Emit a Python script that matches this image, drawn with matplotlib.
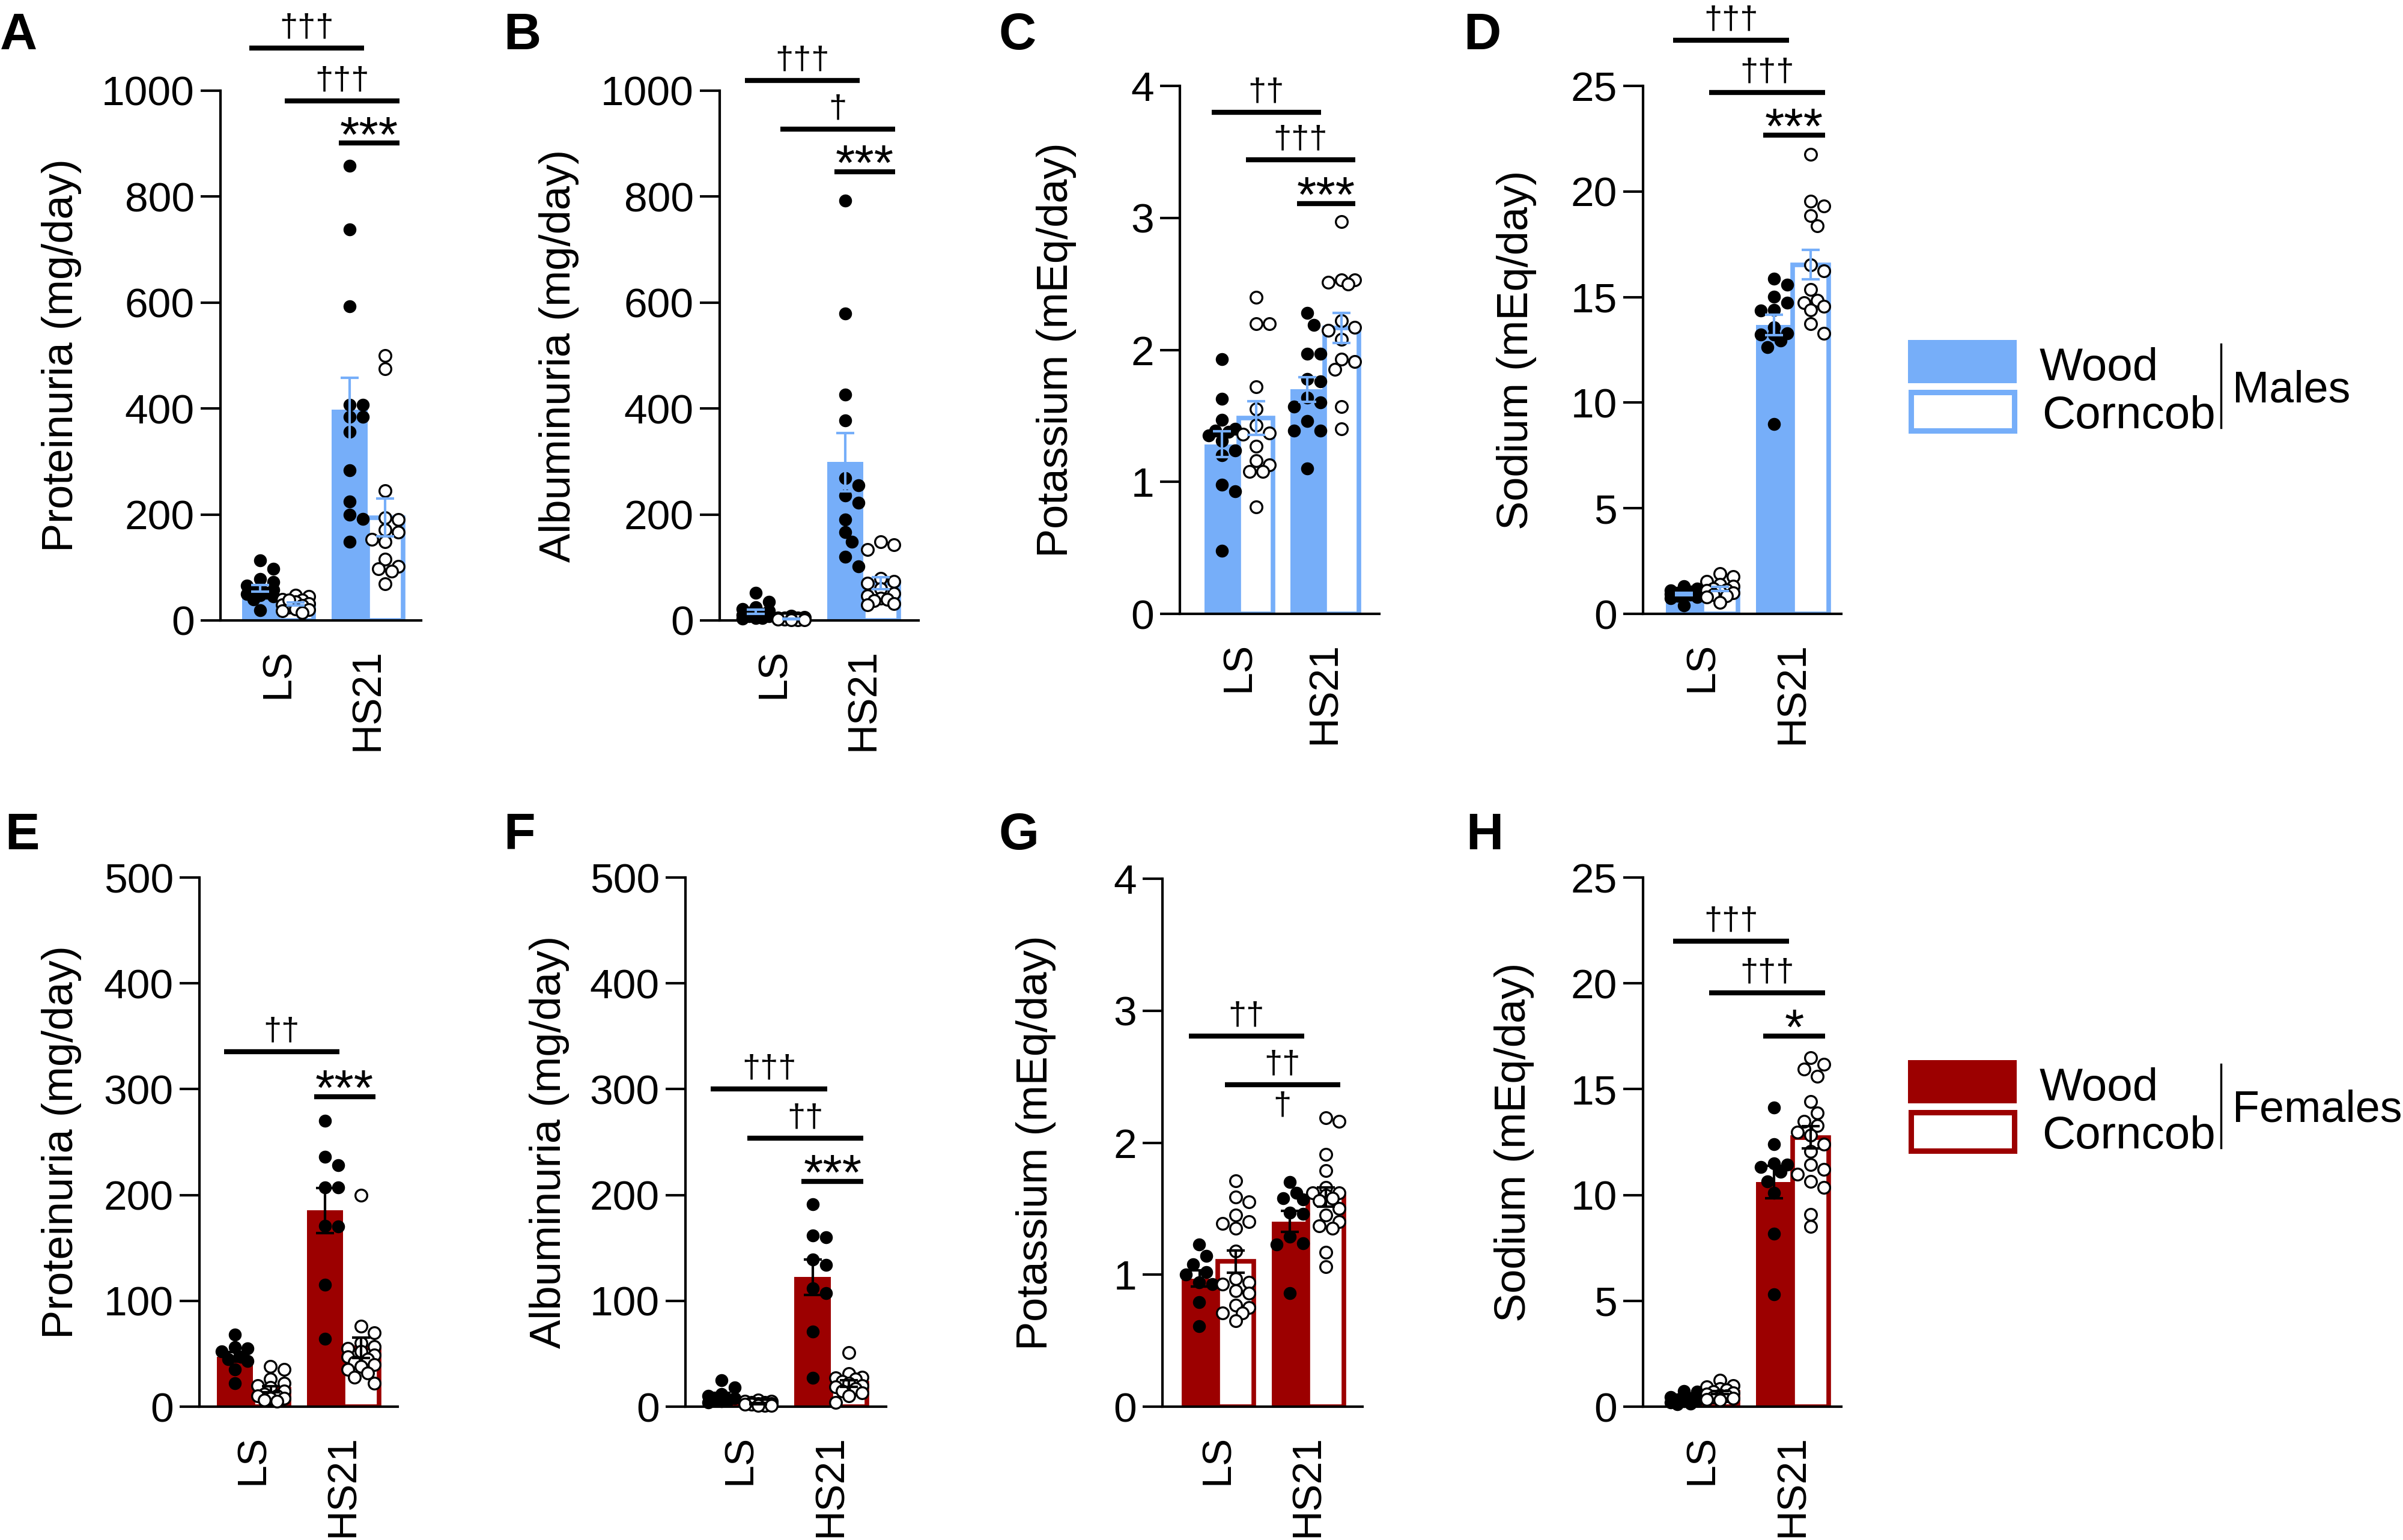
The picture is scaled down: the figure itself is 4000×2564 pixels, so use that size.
import numpy as np
import matplotlib
matplotlib.use("Agg")
import matplotlib.pyplot as plt
from matplotlib.patches import Rectangle
from matplotlib.lines import Line2D

plt.rcParams['font.family'] = ['Liberation Sans', 'DejaVu Sans']

W, H = 4000, 2564

groups = ["LS", "HS21"]
bedding = ["Wood", "Corncob"]

# --- Males ---
a_ls_wood = [113, 97, 78, 72, 66, 62, 58, 55, 52, 50, 48, 45, 40, 19]
a_ls_corn = [48, 45, 40, 38, 35, 32, 30, 28, 25, 22, 20, 18, 15, 38]
a_hs_wood = [858, 738, 593, 407, 407, 384, 384, 356, 284, 224, 199, 192, 148]
a_hs_corn = [500, 475, 245, 194, 190, 171, 167, 153, 148, 116, 102, 97, 93, 69]

b_ls_wood = [52, 35, 25, 22, 18, 15, 12, 10, 10, 8, 8, 5, 5, 3]
b_ls_corn = [8, 6, 5, 5, 4, 4, 3, 3, 2, 2, 2, 1, 1, 1]
b_hs_wood = [792, 579, 426, 378, 269, 255, 236, 222, 190, 167, 148, 120, 102]
b_hs_corn = [148, 143, 134, 79, 74, 70, 60, 51, 46, 42, 40, 37, 32, 30]

c_ls_wood = [1.93, 1.63, 1.47, 1.40, 1.39, 1.38, 1.35, 1.31, 1.24, 1.20, 0.98, 0.93, 0.48]
c_ls_corn = [2.40, 2.20, 2.20, 1.72, 1.55, 1.43, 1.37, 1.36, 1.27, 1.16, 1.13, 1.08, 1.08, 0.81]
c_hs_wood = [2.28, 2.19, 1.97, 1.97, 1.78, 1.76, 1.64, 1.60, 1.57, 1.46, 1.39, 1.39, 1.10]
c_hs_corn = [2.97, 2.53, 2.53, 2.50, 2.51, 2.22, 2.17, 2.15, 2.08, 1.91, 1.93, 1.85, 1.57, 1.40]

d_ls_wood = [1.32, 1.2, 1.1, 1.05, 1.0, 1.0, 0.95, 0.95, 0.9, 0.9, 0.85, 0.8, 0.75, 0.4]
d_ls_corn = [1.9, 1.75, 1.55, 1.4, 1.3, 1.2, 1.15, 1.1, 1.05, 1.0, 0.9, 0.85, 0.8, 0.55]
d_hs_wood = [15.88, 15.6, 15.02, 14.72, 14.39, 14.37, 13.56, 13.28, 13.23, 13.23, 12.93, 12.63, 8.98]
d_hs_corn = [21.75, 19.54, 19.31, 18.85, 18.38, 16.53, 16.25, 15.37, 14.86, 14.72, 14.55, 14.39, 13.74, 13.28]

# --- Females ---
e_ls_wood = [68, 56, 55, 52, 47, 45, 43, 35, 22]
e_ls_corn = [38, 35, 26, 22, 20, 18, 15, 12, 10, 10, 8, 8, 6, 5]
e_hs_wood = [270, 236, 228, 207, 207, 170, 171, 115, 64]
e_hs_corn = [200, 76, 70, 60, 57, 55, 52, 49, 47, 45, 42, 40, 38, 35, 32, 28, 22]

f_ls_wood = [25, 18, 12, 10, 8, 7, 6, 5, 4]
f_ls_corn = [6, 5, 5, 4, 4, 3, 3, 2, 2, 2, 1, 1, 1]
f_hs_wood = [191, 162, 160, 139, 134, 107, 112, 71, 27]
f_hs_corn = [51, 31, 28, 27, 26, 24, 22, 20, 19, 17, 15, 13, 10, 4]

g_ls_wood = [1.23, 1.14, 1.08, 1.02, 1.00, 0.94, 0.93, 0.79, 0.61]
g_ls_corn = [1.71, 1.55, 1.59, 1.45, 1.40, 1.39, 1.35, 1.18, 0.97, 0.94, 0.93, 0.88, 0.86,
             0.77, 0.75, 0.71, 0.71, 0.65]
g_hs_wood = [1.70, 1.62, 1.58, 1.57, 1.47, 1.46, 1.29, 1.24, 1.23, 0.86]
g_hs_corn = [2.19, 2.16, 1.91, 1.79, 1.66, 1.62, 1.62, 1.60, 1.58, 1.56, 1.50, 1.45, 1.40,
             1.37, 1.35, 1.17, 1.06]

h_ls_wood = [0.75, 0.7, 0.45, 0.4, 0.35, 0.3, 0.25, 0.2, 0.15, 0.1]
h_ls_corn = [1.25, 1.0, 0.95, 0.85, 0.8, 0.7, 0.65, 0.6, 0.55, 0.5, 0.45, 0.4, 0.35, 0.3]
h_hs_wood = [14.14, 12.41, 11.49, 11.44, 11.33, 11.1, 10.65, 10.09, 8.18, 5.32]
h_hs_corn = [16.5, 16.17, 15.95, 15.6, 14.41, 13.87, 13.47, 13.29, 12.97, 12.84, 12.39, 12.07,
             11.44, 11.22, 10.99, 10.65, 10.36, 9.08, 8.51]

BLUE = '#76AEF9'
RED = '#9C0000'

# significance bars: (bar i, bar j, y, text); bars 0=LS wood 1=LS corncob 2=HS21 wood 3=HS21 corncob
panels = [
    dict(letter='A', data=(a_ls_wood, a_ls_corn, a_hs_wood, a_hs_corn), box=(367, 151, 701, 1033),
         xlim=(-0.64, 1.60), yticks=range(0, 1001, 200), ylabel='Proteinuria (mg/day)',
         color=BLUE, ecolor=BLUE, letter_xy=(0, 20), label_x=103,
         sig=[(0, 2, 1080, '†††'), (1, 3, 981, '†††'), (2, 3, 901, '***')]),
    dict(letter='B', data=(b_ls_wood, b_ls_corn, b_hs_wood, b_hs_corn), box=(1198, 151, 1529, 1033),
         xlim=(-0.60, 1.62), yticks=range(0, 1001, 200), ylabel='Albuminuria (mg/day)',
         color=BLUE, ecolor=BLUE, letter_xy=(838, 20), label_x=931,
         sig=[(0, 2, 1019, '†††'), (1, 3, 928, '†'), (2, 3, 847, '***')]),
    dict(letter='C', data=(c_ls_wood, c_ls_corn, c_hs_wood, c_hs_corn), box=(1964, 143, 2296, 1022),
         xlim=(-0.69, 1.64), yticks=range(0, 5), ylabel='Potassium (mEq/day)',
         color=BLUE, ecolor=BLUE, letter_xy=(1663, 20), label_x=1758,
         sig=[(0, 2, 3.80, '††'), (1, 3, 3.44, '†††'), (2, 3, 3.11, '***')]),
    dict(letter='D', data=(d_ls_wood, d_ls_corn, d_hs_wood, d_hs_corn), box=(2735, 143, 3065, 1022),
         xlim=(-0.65, 1.54), yticks=range(0, 26, 5), ylabel='Sodium (mEq/day)',
         color=BLUE, ecolor=BLUE, letter_xy=(2436, 20), label_x=2524,
         sig=[(0, 2, 27.16, '†††'), (1, 3, 24.7, '†††'), (2, 3, 22.68, '***')]),
    dict(letter='E', data=(e_ls_wood, e_ls_corn, e_hs_wood, e_hs_corn), box=(332, 1461, 662, 2342),
         xlim=(-0.59, 1.61), yticks=range(0, 501, 100), ylabel='Proteinuria (mg/day)',
         color=RED, ecolor='black', letter_xy=(8, 1352), label_x=103,
         sig=[(0, 2, 335.6, '††'), (2, 3, 292.8, '***')]),
    dict(letter='F', data=(f_ls_wood, f_ls_corn, f_hs_wood, f_hs_corn), box=(1141, 1461, 1475, 2342),
         xlim=(-0.60, 1.61), yticks=range(0, 501, 100), ylabel='Albuminuria (mg/day)',
         color=RED, ecolor='black', letter_xy=(838, 1352), label_x=915,
         sig=[(0, 2, 300, '†††'), (1, 3, 253.6, '††'), (2, 3, 213, '***')]),
    dict(letter='G', data=(g_ls_wood, g_ls_corn, g_hs_wood, g_hs_corn), box=(1935, 1463, 2268, 2342),
         xlim=(-0.61, 1.61), yticks=range(0, 5), ylabel='Potassium (mEq/day)',
         color=RED, ecolor='black', letter_xy=(1663, 1352), label_x=1725,
         sig=[(0, 2, 2.81, '††'), (1, 3, 2.44, '††')], below=(1, 3, 2.44, '†')),
    dict(letter='H', data=(h_ls_wood, h_ls_corn, h_hs_wood, h_hs_corn), box=(2735, 1461, 3065, 2342),
         xlim=(-0.65, 1.54), yticks=range(0, 26, 5), ylabel='Sodium (mEq/day)',
         color=RED, ecolor='black', letter_xy=(2440, 1352), label_x=2520,
         sig=[(0, 2, 21.98, '†††'), (1, 3, 19.55, '†††'), (2, 3, 17.52, '*')]),
]

fig = plt.figure(figsize=(W / 100, H / 100), dpi=100)

bar_x = [-0.2, 0.2, 0.8, 1.2]
DOT = 22  # marker diameter in pixels


def swarm_x(ax, xc, vals):
    # beeswarm in pixel space, kept inside the bar; overlaps allowed when crowded
    xy = ax.transData.transform(np.column_stack([np.full(len(vals), xc), vals]))
    out = np.empty(len(vals))
    placed = []
    step = DOT * 0.5
    for i in np.argsort(vals)[::-1]:
        px, py = xy[i]
        cands = [px] + [px + s * k * step for k in (1, 2) for s in (1, -1)]
        best, bestd = px, -1
        for c in cands:
            d = min([np.hypot(c - qx, py - qy) for qx, qy in placed] or [1e9])
            if d >= 0.9 * DOT:
                best = c
                break
            if d > bestd:
                best, bestd = c, d
        placed.append((best, py))
        out[i] = ax.transData.inverted().transform((best, py))[0]
    return out


for p in panels:
    l, t, r, b = p['box']
    ax = fig.add_axes([l / W, 1 - b / H, (r - l) / W, (b - t) / H])
    ax.set_xlim(*p['xlim'])
    yt = list(p['yticks'])
    ax.set_ylim(0, yt[-1])
    ax.set_yticks(yt)
    ax.set_xticks([0, 1])
    ax.set_xticklabels(groups, rotation=90)
    ax.spines[['top', 'right']].set_visible(False)
    ax.spines[['left', 'bottom']].set_linewidth(3)
    ax.tick_params(axis='y', length=24, width=3, labelsize=50, pad=7)
    ax.tick_params(axis='x', length=0, labelsize=49, pad=34)

    sets = p['data']
    means = [np.mean(v) for v in sets]
    sems = [np.std(v, ddof=1) / np.sqrt(len(v)) for v in sets]

    ax.bar([bar_x[0], bar_x[2]], [means[0], means[2]], width=0.4, color=p['color'], lw=0, zorder=1)
    ax.bar([bar_x[1], bar_x[3]], [means[1], means[3]], width=0.4, facecolor='white',
           edgecolor=p['color'], lw=5.5, zorder=1)

    for k, vals in enumerate(sets):
        xs = swarm_x(ax, bar_x[k], vals)
        if k % 2 == 0:
            ax.scatter(xs, vals, s=240, c='black', lw=0, zorder=3, clip_on=False)
        else:
            ax.scatter(xs, vals, s=200, facecolor='white', edgecolor='black', lw=2.4,
                       zorder=3, clip_on=False)

    ax.errorbar(bar_x, means, yerr=sems, fmt='none', ecolor=p['ecolor'], elinewidth=3,
                capsize=11, capthick=3, zorder=4)

    for i, j, y, txt in p['sig']:
        x1, x2 = bar_x[i] - 0.12, bar_x[j] + 0.16
        ax.plot([x1, x2], [y, y], color='black', lw=6, clip_on=False, solid_capstyle='butt')
        if '*' in txt:
            ax.annotate(txt, ((x1 + x2) / 2, y), xytext=(0, -10), textcoords='offset points',
                        ha='center', va='baseline', fontsize=60, annotation_clip=False)
        else:
            ax.annotate(txt, ((x1 + x2) / 2, y), xytext=(0, 14), textcoords='offset points',
                        ha='center', va='baseline', fontsize=39, annotation_clip=False)
    if 'below' in p:
        i, j, y, txt = p['below']
        x1, x2 = bar_x[i] - 0.12, bar_x[j] + 0.16
        ax.annotate(txt, ((x1 + x2) / 2, y), xytext=(0, -8), textcoords='offset points',
                    ha='center', va='top', fontsize=39, annotation_clip=False)

    fig.text(p['label_x'] / W, 1 - (t + b) / 2 / H, p['ylabel'], rotation=90,
             ha='center', va='center', fontsize=52)
    lx, ly = p['letter_xy']
    fig.text(lx / W, 1 - ly / H, p['letter'], ha='left', va='top', fontsize=62, fontweight='bold')


def legend(top, color, sex):
    # filled box, outlined box, labels and a divider line
    fig.add_artist(Rectangle((3176 / W, 1 - (top + 72) / H), 181 / W, 72 / H,
                             facecolor=color, lw=0, transform=fig.transFigure))
    fig.add_artist(Rectangle((3180.5 / W, 1 - (top + 150.5) / H), 172 / W, 64 / H,
                             facecolor='white', edgecolor=color, lw=6.5, transform=fig.transFigure))
    fig.text(3395 / W, 1 - (top + 67) / H, bedding[0], fontsize=55, va='baseline')
    fig.text(3399 / W, 1 - (top + 147) / H, bedding[1], fontsize=55, va='baseline')
    fig.add_artist(Line2D([3697 / W, 3697 / W], [1 - (top + 7) / H, 1 - (top + 146) / H],
                          color='black', lw=2.5, transform=fig.transFigure))
    fig.text(3716 / W, 1 - (top + 103) / H, sex, fontsize=53, va='baseline')


legend(566, BLUE, 'Males')
legend(1765, RED, 'Females')

fig.savefig('out.png', dpi=100, facecolor='white')
